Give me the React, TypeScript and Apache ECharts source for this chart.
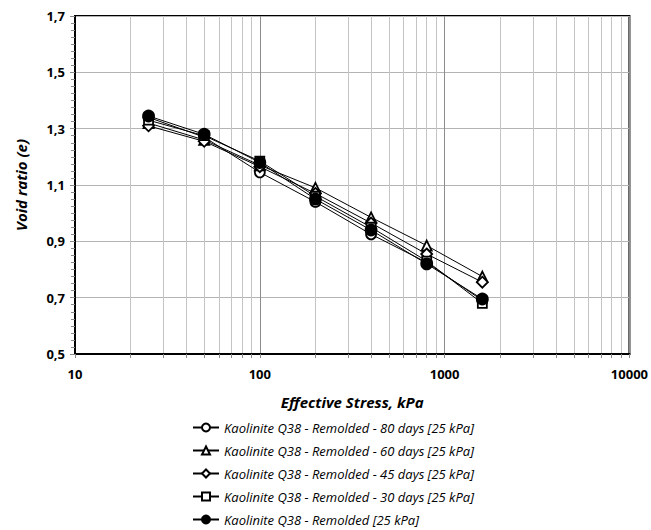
import React, { useEffect, useRef } from "react";
import * as echarts from "echarts";

const stress = [25, 50, 100, 200, 400, 800, 1600];
const e80 = [1.34, 1.27, 1.145, 1.04, 0.925, 0.825, 0.69];
const e60 = [1.32, 1.26, 1.17, 1.09, 0.985, 0.885, 0.775];
const e45 = [1.31, 1.255, 1.165, 1.07, 0.965, 0.855, 0.755];
const e30 = [1.33, 1.275, 1.185, 1.06, 0.95, 0.83, 0.68];
const eRem = [1.345, 1.28, 1.18, 1.05, 0.94, 0.82, 0.695];

const names = [
  "Kaolinite Q38 - Remolded - 80 days [25 kPa]",
  "Kaolinite Q38 - Remolded - 60 days [25 kPa]",
  "Kaolinite Q38 - Remolded - 45 days [25 kPa]",
  "Kaolinite Q38 - Remolded - 30 days [25 kPa]",
  "Kaolinite Q38 - Remolded [25 kPa]",
];
const symbols = ["circle", "triangle", "diamond", "rect", "circle"];
const fills = ["#ffffff", "#ffffff", "#ffffff", "#ffffff", "#000000"];
const sizes = [10, 10, 11, 9, 11];
const allSeries = [e80, e60, e45, e30, eRem];

const xMajorLabels = [10, 100, 1000, 10000];
const xGridValues = [
  10, 20, 30, 40, 50, 60, 70, 80, 90,
  100, 200, 300, 400, 500, 600, 700, 800, 900,
  1000, 2000, 3000, 4000, 5000, 6000, 7000, 8000, 9000,
  10000,
];
const yMajor = [0.5, 0.7, 0.9, 1.1, 1.3, 1.5, 1.7];

const FONT = "'Open Sans', 'Noto Sans', sans-serif";

export default function App() {
  const ref = useRef<HTMLDivElement>(null);
  useEffect(() => {
    if (!ref.current) return;
    const chart = echarts.init(ref.current, null, { renderer: "svg" });
    chart.setOption({
      animation: false,
      backgroundColor: "#ffffff",
      grid: {
        left: 75,
        right: 21,
        top: 16,
        bottom: 176,
        show: true,
        borderColor: "#000",
        borderWidth: 2,
        backgroundColor: "transparent",
      },
      legend: {
        orient: "vertical",
        left: 192,
        top: 421,
        height: 160,
        padding: 0,
        itemWidth: 26,
        itemHeight: 10,
        itemGap: 10,
        data: names,
        textStyle: {
          fontFamily: FONT,
          fontStyle: "italic",
          fontSize: 13,
          color: "#000",
          lineHeight: 12,
        },
      },
      xAxis: {
        type: "log",
        logBase: 10,
        min: 10,
        max: 10000,
        name: "Effective Stress, kPa",
        nameLocation: "middle",
        nameGap: 40,
        nameTextStyle: {
          fontFamily: FONT,
          fontStyle: "italic",
          fontWeight: "bold",
          fontSize: 15,
          color: "#000",
        },
        axisLine: { show: true, lineStyle: { color: "#000", width: 2 } },
        axisTick: {
          show: true,
          customValues: xGridValues,
          length: 4,
          lineStyle: { color: "#888" },
        },
        axisLabel: {
          customValues: xMajorLabels,
          margin: 13,
          fontFamily: FONT,
          fontWeight: "bold",
          fontSize: 13,
          color: "#000",
          formatter: (v: number) => String(v),
        },
        splitLine: {
          show: true,
          lineStyle: {
            color: ["#8c8c8c", "#c4c4c4", "#c4c4c4", "#c4c4c4", "#c4c4c4", "#c4c4c4", "#c4c4c4", "#c4c4c4", "#c4c4c4"],
            width: 1,
          },
        },
      },
      yAxis: [
        {
          type: "value",
          min: 0.5,
          max: 1.7,
          name: "Void ratio (e)",
          nameLocation: "middle",
          nameGap: 47,
          nameTextStyle: {
            fontFamily: FONT,
            fontStyle: "italic",
            fontWeight: "bold",
            fontSize: 15,
            color: "#000",
          },
          axisLine: { show: true, lineStyle: { color: "#000", width: 2 } },
          axisTick: {
            show: true,
            customValues: yMajor,
            length: 5,
            lineStyle: { color: "#888" },
          },
          axisLabel: {
            customValues: yMajor,
            margin: 10,
            fontFamily: FONT,
            fontWeight: "bold",
            fontSize: 13,
            color: "#000",
            formatter: (v: number) => v.toFixed(1).replace(".", ","),
          },
          splitLine: { show: true, lineStyle: { color: "#b4b4b4", width: 1 } },
        },
        {
          type: "value",
          min: 0.5,
          max: 1.7,
          interval: 0.025,
          position: "left",
          axisLine: { show: false },
          axisTick: { show: true, length: 4, lineStyle: { color: "#888" } },
          axisLabel: { show: false },
          splitLine: { show: false },
        },
      ],
      series: allSeries.map((vals, i) => ({
        name: names[i],
        type: "line",
        yAxisIndex: 0,
        data: stress.map((s, j) => [s, vals[j]]),
        symbol: symbols[i],
        symbolSize: sizes[i],
        showAllSymbol: true,
        lineStyle: { color: "#000", width: 1 },
        itemStyle: { color: fills[i], borderColor: "#000", borderWidth: 1.8 },
        emphasis: { disabled: true },
        z: 2 + i,
      })),
    });
    return () => chart.dispose();
  }, []);
  return (
    <div
      ref={ref}
      style={{ position: "fixed", left: 0, top: 0, width: 651, height: 530 }}
    />
  );
}
